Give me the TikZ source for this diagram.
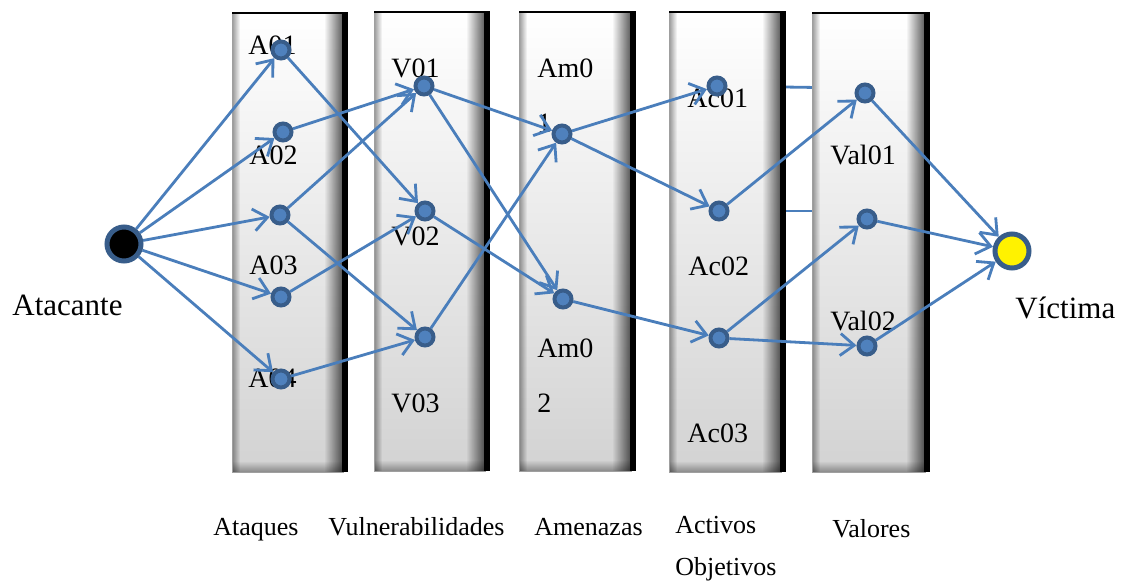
\documentclass[tikz,border=0pt]{standalone}
\usepackage{fontspec}
\setmainfont{Liberation Serif}
\usetikzlibrary{arrows.meta,fadings}

\pgfdeclarelayer{hidden}
\pgfdeclarelayer{panels}
\pgfdeclarelayer{edges}
\pgfsetlayers{hidden,panels,edges,main}

\definecolor{edgeblue}{HTML}{4A7EBB}
\definecolor{dotfill}{HTML}{4F81BD}
\definecolor{dotrim}{HTML}{385D8A}

\tikzfading[name=rightdark, left color=transparent!100, right color=transparent!0]
\tikzfading[name=leftdark, left color=transparent!0, right color=transparent!100]
\tikzfading[name=bottomdark, top color=transparent!100, bottom color=transparent!0]

% bevelled column: #1,#2 top-left corner, #3,#4 bottom-right corner
\newcommand\bevelpanel[4]{%
  \shade[top color=white, bottom color=gray!35] (#1,#2) rectangle (#3-5,#4);
  \fill[black, opacity=0.4, path fading=leftdark] (#1,#2) rectangle (#1+8,#4);
  \fill[black, opacity=0.65, path fading=rightdark] (#3-24,#2) rectangle (#3-5,#4);
  \fill[black, opacity=0.35, path fading=bottomdark] (#1,#4-11) rectangle (#3-5,#4);
  \draw[gray!75, line width=0.4pt] (#1,#2) rectangle (#3-5,#4);
  \fill[black] (#3-6,#2) rectangle (#3,#4);
  \draw[black, line width=0.8pt] (#1,#2) -- (#3,#2);
}

% label on two lines, anchored on the baseline of the first one
\newcommand\twolines[3]{\vtop{\baselineskip=#3\hbox{#1}\hbox{#2}}}

\begin{document}
\begin{tikzpicture}[x=0.5pt, y=-0.5pt,
  dot/.style={circle, fill=dotfill, draw=dotrim, line width=2pt, minimum size=8.5pt, inner sep=0pt},
  endpoint/.style={circle, draw=dotrim, line width=2.5pt, minimum size=17pt, inner sep=0pt},
  edge/.style={draw=edgeblue, line width=1.4pt, -{Straight Barb[length=7pt,width=11pt]}},
  plain/.style={draw=edgeblue, line width=1.4pt},
  lbl/.style={anchor=base west, inner sep=0pt, font=\fontsize{14}{16}\selectfont},
  captxt/.style={anchor=base west, inner sep=0pt, font=\fontsize{13}{15}\selectfont},
  bigtxt/.style={anchor=base west, inner sep=0pt, font=\fontsize{15.5}{18}\selectfont}]

\useasboundingbox (0,0) rectangle (1125,583);

% columns and their labels
\begin{pgfonlayer}{panels}
  \bevelpanel{232}{13}{348}{472}
  \bevelpanel{374}{12}{490}{471}
  \bevelpanel{519}{12}{636}{471}
  \bevelpanel{669}{12}{786}{472}
  \bevelpanel{812}{13}{930}{472}

  \node[lbl] (tA1) at (248,55) {A01};
  \node[lbl] (tA2) at (249,164) {A02};
  \node[lbl] (tA3) at (249,274) {A03};
  \node[lbl] (tA4) at (248,387) {A04};
  \node[lbl] (tV1) at (391,78) {V01};
  \node[lbl] (tV2) at (391,245) {V02};
  \node[lbl] (tV3) at (391,412) {V03};
  \node[lbl] (tM1) at (537,78) {\twolines{Am0}{1}{27.5pt}};
  \node[lbl] (tM2) at (537,357) {\twolines{Am0}{2}{27.5pt}};
  \node[lbl] (tC1) at (687,108) {Ac01};
  \node[lbl] (tC2) at (688,275) {Ac02};
  \node[lbl] (tC3) at (687,442) {Ac03};
  \node[lbl] (tL1) at (830,164) {Val01};
  \node[lbl] (tL2) at (830,330) {Val02};
\end{pgfonlayer}

% captions
\node[captxt] (cA) at (213,535) {Ataques};
\node[captxt] (cV) at (328,535) {Vulnerabilidades};
\node[captxt] (cM) at (534,535) {Amenazas};
\node[captxt] (cC) at (675,533) {\twolines{Activos}{Objetivos}{21pt}};
\node[captxt] (cL) at (832,537) {Valores};
\node[bigtxt] (tatk) at (12,315) {Atacante};
\node[bigtxt] (tvic) at (1015,318) {Víctima};

% points
\node[endpoint, fill=black] (atk) at (124,244) {};
\node[endpoint, fill=yellow] (vic) at (1012,251) {};

\node[dot] (A1) at (281,50) {};
\node[dot] (A2) at (283,132) {};
\node[dot] (A3) at (280,215) {};
\node[dot] (A4) at (281,297) {};
\node[dot] (A5) at (281,379) {};
\node[dot] (V1) at (424,86) {};
\node[dot] (V2) at (425,211) {};
\node[dot] (V3) at (425,337) {};
\node[dot] (M1) at (562,134) {};
\node[dot] (M2) at (563,299) {};
\node[dot] (C1) at (717,86) {};
\node[dot] (C2) at (719,211) {};
\node[dot] (C3) at (719,338) {};
\node[dot] (L1) at (865,93) {};
\node[dot] (L2) at (867,219) {};
\node[dot] (L3) at (867,346) {};

\coordinate (h1) at (850,88);
\coordinate (h2) at (850,211);

% white page, then links passing behind the columns
\begin{pgfonlayer}{hidden}
  \fill[white] (0,0) rectangle (1125,583);
  \draw[plain] (C1) -- (h1);
  \draw[plain] (C2) -- (h2);
\end{pgfonlayer}

% attack paths
\begin{pgfonlayer}{edges}
  \foreach \t in {A1,A2,A3,A4,A5} \draw[edge] (atk) -- (\t);
  \draw[edge] (A1) -- (V2);
  \draw[edge] (A2) -- (V1);
  \draw[edge] (A3) -- (V1);
  \draw[edge] (A3) -- (V3);
  \draw[edge] (A4) -- (V2);
  \draw[edge] (A5) -- (V3);
  \draw[edge] (V1) -- (M1);
  \draw[edge] (V1) -- (M2);
  \draw[edge] (V2) -- (M2);
  \draw[edge] (V3) -- (M1);
  \draw[edge] (M1) -- (C1);
  \draw[edge] (M1) -- (C2);
  \draw[edge] (M2) -- (C3);
  \draw[edge] (C2) -- (L1);
  \draw[edge] (C3) -- (L2);
  \draw[edge] (C3) -- (L3);
  \draw[edge] (L1) -- (vic);
  \draw[edge] (L2) -- (vic);
  \draw[edge] (L3) -- (vic);
\end{pgfonlayer}
\end{tikzpicture}
\end{document}
